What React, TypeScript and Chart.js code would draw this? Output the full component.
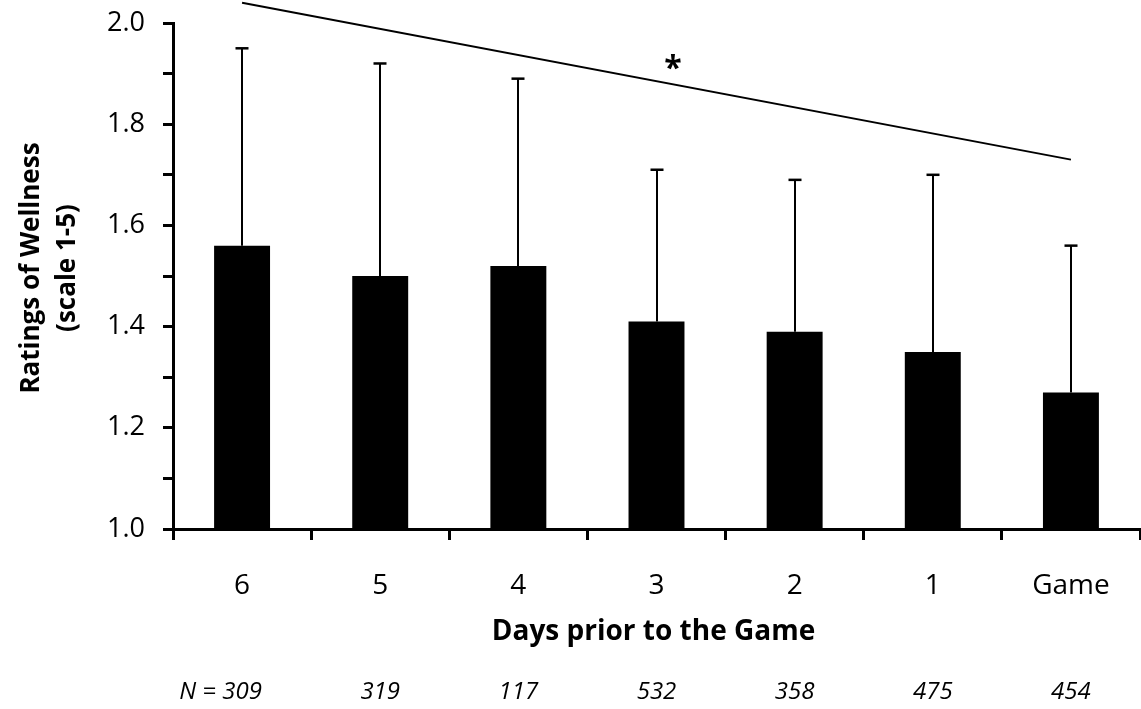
import React, { useEffect, useRef } from 'react';
import { Chart, registerables } from 'chart.js';

Chart.register(...registerables);

const categories = ['6', '5', '4', '3', '2', '1', 'Game'];
const means = [1.56, 1.5, 1.52, 1.41, 1.39, 1.35, 1.27];
const sds = [0.39, 0.42, 0.37, 0.3, 0.3, 0.35, 0.29];
const sampleSizes = [309, 319, 117, 532, 358, 475, 454];
const sampleSizePrefix = 'N = ';
const trendStart = 2.04;
const trendEnd = 1.73;
const yMin = 1.0;
const yMax = 2.0;
const yStep = 0.1;
const xTitle = 'Days prior to the Game';
const yTitleLines = ['Ratings of Wellness', '(scale 1-5)'];
const significanceMark = '*';
const significanceIndex = 3.12;
const significanceValue = 1.92;

const FONT = "'Open Sans', 'DejaVu Sans', sans-serif";

const overlayPlugin = {
  id: 'overlay',
  afterDatasetsDraw(chart: any) {
    const ctx = chart.ctx;
    const x = chart.scales.x;
    const y = chart.scales.y;
    ctx.save();
    ctx.strokeStyle = '#000';
    ctx.fillStyle = '#000';

    // error bars (upper only)
    means.forEach((m, i) => {
      const cx = Math.round(x.getPixelForValue(i));
      const yBase = y.getPixelForValue(m);
      const yTop = y.getPixelForValue(m + sds[i]);
      ctx.lineWidth = 2;
      ctx.beginPath();
      ctx.moveTo(cx, yBase);
      ctx.lineTo(cx, yTop);
      ctx.stroke();
      ctx.lineWidth = 2.5;
      ctx.beginPath();
      ctx.moveTo(cx - 6.5, yTop);
      ctx.lineTo(cx + 6.5, yTop);
      ctx.stroke();
    });

    // trend line
    ctx.lineWidth = 2;
    ctx.beginPath();
    ctx.moveTo(x.getPixelForValue(0), y.getPixelForValue(trendStart));
    ctx.lineTo(x.getPixelForValue(categories.length - 1), y.getPixelForValue(trendEnd));
    ctx.stroke();

    // significance mark
    ctx.font = `bold 32px ${FONT}`;
    ctx.textAlign = 'center';
    ctx.textBaseline = 'middle';
    ctx.fillText(significanceMark, x.getPixelForValue(significanceIndex), y.getPixelForValue(significanceValue) + 6);

    // x title
    ctx.font = `bold 28px ${FONT}`;
    ctx.textAlign = 'center';
    ctx.textBaseline = 'middle';
    ctx.fillText(xTitle, (chart.chartArea.left + chart.chartArea.right) / 2 - 3, 632);

    // sample sizes
    ctx.font = `italic 24px ${FONT}`;
    ctx.textBaseline = 'middle';
    sampleSizes.forEach((n, i) => {
      const cx = x.getPixelForValue(i);
      const s = String(n);
      ctx.textAlign = 'center';
      ctx.fillText(s, cx, 692);
      if (i === 0) {
        const w = ctx.measureText(s).width;
        ctx.textAlign = 'right';
        ctx.fillText(sampleSizePrefix, cx - w / 2, 692);
      }
    });

    // y title
    ctx.font = `bold 26px ${FONT}`;
    ctx.textAlign = 'center';
    ctx.textBaseline = 'middle';
    const cy = 268;
    const xs = [32, 68];
    yTitleLines.forEach((line, i) => {
      ctx.save();
      ctx.translate(xs[i], cy);
      ctx.rotate(-Math.PI / 2);
      ctx.fillText(line, 0, 0);
      ctx.restore();
    });

    ctx.restore();
  },
};

export default function App() {
  const ref = useRef<HTMLCanvasElement | null>(null);
  useEffect(() => {
    document.body.style.margin = '0';
    if (!ref.current) return;
    const chart = new Chart(ref.current, {
      type: 'bar',
      data: {
        labels: categories,
        datasets: [
          {
            data: means,
            backgroundColor: '#000',
            borderWidth: 0,
            barPercentage: 0.405,
            categoryPercentage: 1,
          },
        ],
      },
      options: {
        animation: false,
        responsive: true,
        maintainAspectRatio: false,
        layout: { padding: { left: 0, right: 1, top: 23, bottom: 0 } },
        plugins: {
          legend: { display: false },
          tooltip: { enabled: false },
        },
        scales: {
          x: {
            afterFit: (s: any) => {
              s.height = 180;
              s.paddingLeft = 0;
              s.paddingRight = 0;
            },
            grid: {
              display: true,
              drawOnChartArea: false,
              drawTicks: true,
              tickLength: 11,
              color: '#000',
              lineWidth: 3,
            },
            border: { display: true, color: '#000', width: 3 },
            ticks: {
              color: '#000',
              font: { family: FONT, size: 28 },
              padding: 29,
              maxRotation: 0,
            },
          },
          y: {
            min: yMin,
            max: yMax,
            afterFit: (s: any) => {
              s.width = 173;
              s.paddingTop = 0;
              s.paddingBottom = 0;
            },
            grid: {
              display: true,
              drawOnChartArea: false,
              drawTicks: true,
              tickLength: 10,
              color: '#000',
              lineWidth: 3,
            },
            border: { display: true, color: '#000', width: 3 },
            ticks: {
              stepSize: yStep,
              autoSkip: false,
              color: '#000',
              font: { family: FONT, size: 27 },
              padding: 18,
              callback: (v: any) => {
                const k = Math.round(Number(v) * 10);
                return k % 2 === 0 ? (k / 10).toFixed(1) : '';
              },
            },
          },
        },
      },
      plugins: [overlayPlugin],
    });
    return () => chart.destroy();
  }, []);
  return (
    <div style={{ width: 1141, height: 709, position: 'relative' }}>
      <canvas ref={ref} />
    </div>
  );
}
